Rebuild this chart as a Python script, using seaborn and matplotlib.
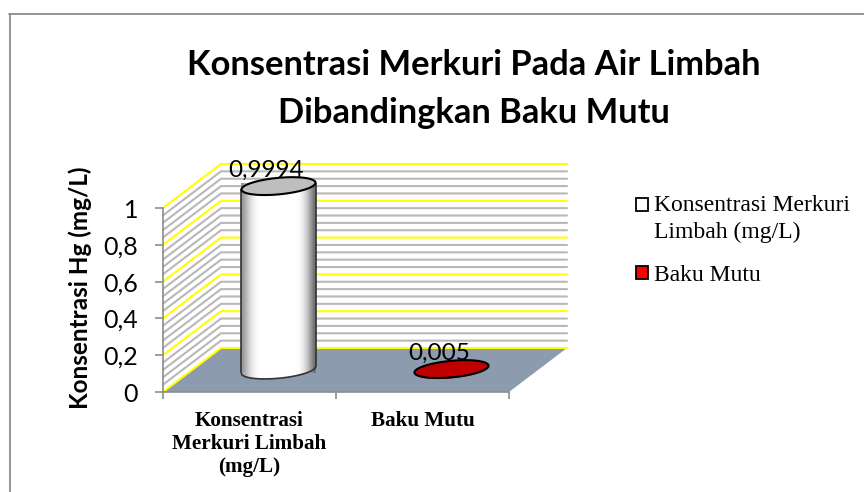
import numpy as np
import pandas as pd
import matplotlib
matplotlib.use("Agg")
import matplotlib.pyplot as plt
import seaborn as sns
from matplotlib.patches import Patch, Polygon
from matplotlib.lines import Line2D
from matplotlib.transforms import Affine2D

# --- datos ---
kategori = ["Konsentrasi\nMerkuri Limbah\n(mg/L)", "Baku Mutu"]
nilai = [0.9994, 0.005]
label_nilai = ["0,9994", "0,005"]
warna_badan = ["#FFFFFF", "#C00000"]
warna_tutup = ["#BEBEBE", "#C00000"]
legend_label = ["Konsentrasi Merkuri\nLimbah (mg/L)", "Baku Mutu"]
warna_legend = ["#FFFFFF", "#FF0000"]
y_major = [0, 0.2, 0.4, 0.6, 0.8, 1]
y_major_label = ["0", "0,2", "0,4", "0,6", "0,8", "1"]
y_minor = [0.04, 0.08, 0.12, 0.16, 0.24, 0.28, 0.32, 0.36, 0.44, 0.48, 0.52, 0.56,
           0.64, 0.68, 0.72, 0.76, 0.84, 0.88, 0.92, 0.96]

W, H = 864, 492
sns.set_style("white")
fig = plt.figure(figsize=(W / 100, H / 100), dpi=100)
fig.patch.set_facecolor("white")
# marco del grafico: solo arriba e izquierda quedan dentro de la imagen
fig.add_artist(Line2D([9.5 / W, 9.5 / W], [0, 1 - 13.5 / H], color="#8C8C8C", lw=1.3))
fig.add_artist(Line2D([9 / W, 1], [1 - 13.5 / H, 1 - 13.5 / H], color="#8C8C8C", lw=1.3))

# eje = plano frontal del grafico 3D
ax = fig.add_axes([163 / W, 1 - 392 / H, 346 / W, 184 / H])
ax.patch.set_visible(False)

df = pd.DataFrame({"kategori": kategori, "nilai": nilai})
sns.barplot(data=df, x="kategori", y="nilai", hue="kategori", palette=warna_badan,
            width=0.428, legend=False, ax=ax, zorder=5)
ax.set_xlabel("")
ax.set_ylabel("")
ax.set_xlim(-0.5, 1.5)
ax.set_ylim(0, 1)

# profundidad en unidades de datos
dx = 58 / 173
dy = 44 / 184
x0, x1 = ax.get_xlim()

# paredes y piso
ax.add_patch(Polygon([(x0, 0), (x1, 0), (x1 + dx, dy), (x0 + dx, dy)], fc="#8C9BAE", ec="none",
                     zorder=1, clip_on=False))
for yy in y_minor:
    ax.plot([x0, x0 + dx, x1 + dx], [yy, yy + dy, yy + dy], color="#B8B8B8", lw=1.5, zorder=2,
            clip_on=False, solid_joinstyle="miter")
for yy in y_major:
    ax.plot([x0, x0 + dx, x1 + dx], [yy, yy + dy, yy + dy], color="#FFFF00", lw=1.5, zorder=3,
            clip_on=False, solid_joinstyle="miter")

# cilindros: cada barra se inclina y se lleva a media profundidad
k = 0.085
b = 0.045
grad = np.array([0.6, 0.72, 0.84, 0.93, 0.98, 1, 1, 1, 1, 1, 1, 1, 1, 1, 1, 1, 0.97, 0.9, 0.78, 0.62, 0.45])[None, :]
t = np.linspace(0, 2 * np.pi, 100)


def elipse(xc, yc, a):
    return np.column_stack([xc + a * np.cos(t), yc + b * np.sin(t) + k * a * np.cos(t)])


for i, bar in enumerate(ax.patches[:2]):
    xb, wb, hb = bar.get_x(), bar.get_width(), bar.get_height()
    xc = xb + wb / 2
    shear = Affine2D([[1, 0, dx / 2], [k, 1, dy / 2 - k * xc], [0, 0, 1]])
    bar.set_transform(shear + ax.transData)
    bar.set_clip_on(False)
    bar.set_edgecolor("none")
    a = wb / 2
    ybase, ytop = dy / 2, hb + dy / 2
    xm = xc + dx / 2
    contorno = elipse(xm, ybase, a)
    base = Polygon(contorno, fc=warna_badan[i], ec="none", zorder=4, clip_on=False)
    ax.add_patch(base)
    if i == 0:
        # degradado horizontal del cuerpo y de la base
        for clip, z in ((base, 4.5), (bar, 5.5)):
            im = ax.imshow(grad, cmap="gray", vmin=0, vmax=1, aspect="auto", interpolation="bilinear",
                           extent=(xm - a, xm + a, ybase - 0.1, ytop + 0.1), zorder=z)
            im.set_clip_path(clip)
        for sgn in (-1, 1):
            ax.plot([xm + sgn * a] * 2, [ybase + sgn * k * a, ytop + sgn * k * a], color="#333333",
                    lw=1.2, zorder=6, clip_on=False, solid_capstyle="butt")
        ax.plot(contorno[50:, 0], contorno[50:, 1], color="#333333", lw=1.2, zorder=6, clip_on=False)
    ax.add_patch(Polygon(elipse(xm, ytop, a), fc=warna_tutup[i], ec="black", lw=1.5, zorder=7,
                         clip_on=False))
    ax.text(xm - 0.07, ytop + 0.088, label_nilai[i], ha="center", va="center", fontsize=17.5,
            family="Lato", color="black", zorder=8)

ax.set_xlim(-0.5, 1.5)
ax.set_ylim(0, 1)

# ejes
for s in ["top", "right"]:
    ax.spines[s].set_visible(False)
for s in ["left", "bottom"]:
    ax.spines[s].set_color("#8C8C8C")
    ax.spines[s].set_linewidth(1.2)
    ax.spines[s].set_zorder(3.5)
ax.set_yticks(y_major, y_major_label, family="Lato", fontsize=18, color="black")
ax.set_xticks([0, 1], kategori, family="Liberation Serif", fontsize=15.2, fontweight="bold", color="black")
ax.set_xticks([-0.5, 0.5, 1.5], minor=True)
ax.tick_params(axis="x", which="major", length=0, pad=14)
ax.tick_params(axis="x", which="minor", length=5, width=1.2, color="#8C8C8C", bottom=True)
ax.tick_params(axis="y", length=6, width=1.2, color="#8C8C8C", left=True, pad=12)
ax.set_ylim(0, 1)

fig.text(80 / W, 1 - 288 / H, "Konsentrasi Hg (mg/L)", rotation=90, ha="center", va="center",
         family="Lato", fontweight="bold", fontsize=17.5, color="black")
fig.text(474 / W, 1 - 89 / H, "Konsentrasi Merkuri Pada Air Limbah\nDibandingkan Baku Mutu", ha="center",
         va="center", family="Lato", fontweight="bold", fontsize=24.8, linespacing=1.6, color="black")

# leyenda
handles = [Patch(fc=c, ec="black", lw=1.3) for c in warna_legend]
leg = ax.legend(handles, legend_label, loc="upper left", bbox_to_anchor=(636 / W, 1 - 195 / H),
                bbox_transform=fig.transFigure, frameon=False, handlelength=0.5, handleheight=0.5,
                handletextpad=0.25, borderpad=0, borderaxespad=0, labelspacing=0.93,
                prop={"family": "Liberation Serif", "size": 17})
for txt in leg.get_texts():
    txt.set_color("black")
    txt.set_linespacing(1.35)
# el cuadro del primer elemento va a la altura de la primera linea
h0 = leg.legend_handles[0]
h0.set_y(h0.get_y() + 10)

fig.savefig("out.png", dpi=100)
